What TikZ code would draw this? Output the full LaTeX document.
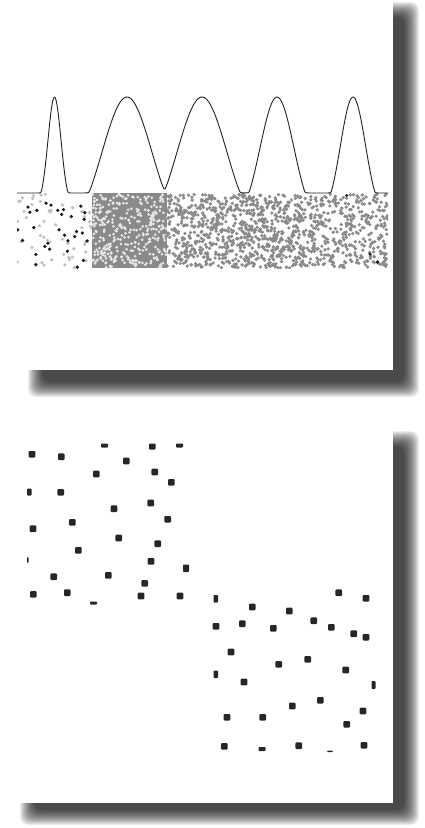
\documentclass[tikz,border=0pt]{standalone}
\definecolor{bandgray}{HTML}{8A8A8A}
\definecolor{lightdot}{HTML}{E6E6E6}
\definecolor{sqcol}{HTML}{262626}
\definecolor{curvecol}{HTML}{222222}
\newcommand\myshadow[4]{%
  \foreach \k in {0,...,15}{%
    \fill[black,opacity=0.07,rounded corners=8pt] (#1+\k,#2+\k) rectangle (#3-\k,#4-\k);}}
\newcommand\sqr[2]{\fill[sqcol,rounded corners=1pt] (#1-3.3,#2-3.3) rectangle (#1+3.3,#2+3.3);}
\newcommand\prt[4]{\fill[sqcol,rounded corners=0.8pt] (#1,#2) rectangle (#3,#4);}
\begin{document}
\begin{tikzpicture}[x=1pt,y=-1pt,
  declare function={
    pk(\x,\c,\s,\L)=((exp(-0.5*(min(abs(\x-\c),3.5*\s)/\s)*(min(abs(\x-\c),3.5*\s)/\s))-exp(-0.5*(\L/\s)*(\L/\s)))/(1-exp(-0.5*(\L/\s)*(\L/\s))));
    sp(\d)=(\d+sqrt(\d*\d+0.0006))/2;
    tot(\x)=sp(pk(\x,54.5,6.5,13.5))+sp(pk(\x,127,25,38))+sp(pk(\x,202,25,38))+sp(pk(\x,277,17,28))+sp(pk(\x,353,12.5,22));
  }]
\useasboundingbox (0,0) rectangle (425,828);
\fill[white] (0,0) rectangle (425,828);
% shadows
\myshadow{28}{2}{419}{397}
\myshadow{20}{431}{419}{825}
% panels
\fill[white] (0,0) rectangle (393,370);
\fill[white] (0,405) rectangle (393,803);
% ---------- top panel: band ----------
\pgfmathsetseed{4711}
\begin{scope}
  \clip (17,193.5) rectangle (388,268);
  % region A
  \foreach \i in {1,...,55}{\fill[gray!50] ({17+75*rnd},{194+74*rnd}) circle (1.8pt);}
  \foreach \i in {1,...,30}{\fill[black!90] ({17+75*rnd},{194+74*rnd}) circle (1.8pt);}
  % region B
  \fill[bandgray] (92,193) rectangle (167,268);
  \foreach \i in {1,...,340}{\fill[lightdot] ({92+75*rnd},{194+74*rnd}) circle (1.5pt);}
  % region C
  \foreach \i in {1,...,820}{\fill[bandgray] ({167+133*rnd},{194+74*rnd}) circle (1.8pt);}
  \foreach \i in {1,...,400}{\fill[bandgray] ({300+88*rnd},{194+74*rnd}) circle (1.8pt);}
  \fill[black!90] (346.7,195.5) circle (1.6pt);
  \fill[black!90] (370,254) circle (1.6pt);
  \fill[black!90] (377.5,262) circle (1.8pt);
\end{scope}
% curve
\draw[curvecol,line width=0.9pt,line join=round]
  plot[domain=17:388,samples=743] (\x,{193.3-96*tot(\x)});
% ---------- bottom panel: squares ----------
% left group
\sqr{32}{454.3}\sqr{61.3}{456.7}\sqr{126.3}{461}\sqr{96.3}{474}
\sqr{154.7}{472}\sqr{171.3}{482.3}\sqr{60.7}{492.3}\sqr{114}{508.7}
\sqr{150.7}{503}\sqr{167.7}{519.3}\sqr{33}{528.7}\sqr{72.3}{522.3}
\sqr{118.7}{538}\sqr{157.7}{543.7}\sqr{78.3}{550.3}\sqr{151}{561.3}
\sqr{53.7}{576.7}\sqr{108.3}{575.3}\sqr{144.7}{583.3}\sqr{33.3}{594.3}
\sqr{67.3}{592.7}\sqr{141}{596}\sqr{180}{596}
\prt{101}{443.5}{108}{447.5}
\prt{149}{443.5}{155.5}{449.5}
\prt{176}{443.5}{183}{447.5}
\prt{27}{488.5}{31.5}{495.5}
\prt{27}{557}{28.5}{563}
\prt{90}{601.5}{97}{604.5}
\prt{183}{564.5}{189}{572}
% right group
\sqr{338.7}{592.7}\sqr{366}{598.3}\sqr{252.3}{607}\sqr{289.3}{611}
\sqr{216}{626.3}\sqr{242.3}{623.7}\sqr{273.3}{628.3}\sqr{313.7}{620.7}
\sqr{331.3}{627.3}\sqr{353.7}{633.7}\sqr{366}{637.3}\sqr{231}{652}
\sqr{278.7}{664.3}\sqr{307.7}{659.3}\sqr{345.7}{670}\sqr{244}{682}
\sqr{292.3}{706}\sqr{320.3}{700.3}\sqr{227}{717.3}\sqr{262.7}{717.3}
\sqr{363}{711}\sqr{346.7}{724.3}\sqr{224.3}{746.3}\sqr{298.7}{745.7}
\sqr{364}{745.3}
\prt{213.5}{595}{218}{602.5}
\prt{213.5}{670.5}{218}{678}
\prt{371.5}{681}{375.5}{689}
\prt{258.5}{747}{265.5}{751}
\prt{327}{750.5}{333}{752}
\end{tikzpicture}
\end{document}
